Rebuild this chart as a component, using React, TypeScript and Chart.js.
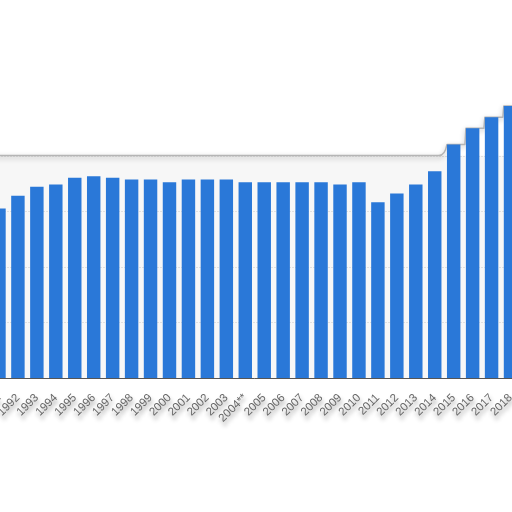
import React, { useEffect, useRef } from "react";
import { Chart, registerables } from "chart.js";

Chart.register(...registerables);

const years = [
  "1991", "1992", "1993", "1994", "1995", "1996", "1997", "1998", "1999", "2000",
  "2001", "2002", "2003", "2004**", "2005", "2006", "2007", "2008", "2009", "2010",
  "2011", "2012", "2013", "2014", "2015", "2016", "2017", "2018",
];
const values = [
  30.5, 32.8, 34.4, 34.8, 36.0, 36.3, 36.0, 35.7, 35.7, 35.2,
  35.7, 35.7, 35.7, 35.2, 35.2, 35.2, 35.2, 35.2, 34.8, 35.2,
  31.6, 33.2, 34.8, 37.2, 42.0, 44.9, 46.9, 48.9,
];
const gridValues = [10, 20, 30, 40];
const bandTop = 40;
const yMax = 50;

const BAR_COLOR = "rgb(42,120,216)";

const decorPlugin = {
  id: "decor",
  beforeDraw(chart: any) {
    const ctx = chart.ctx;
    ctx.save();
    ctx.shadowColor = "rgba(0,0,0,0.45)";
    ctx.shadowBlur = 4;
    ctx.shadowOffsetX = 1;
    ctx.shadowOffsetY = 4;
  },
  beforeDatasetsDraw(chart: any) {
    const ctx = chart.ctx;
    ctx.restore();
    const { left, right, bottom } = chart.chartArea;
    const y = chart.scales.y;
    const yb = y.getPixelForValue(bandTop);
    ctx.save();
    ctx.fillStyle = "#f7f7f7";
    ctx.fillRect(left, yb, right - left, bottom - yb);
    ctx.strokeStyle = "#c8c8c8";
    ctx.lineWidth = 1;
    ctx.setLineDash([1, 2]);
    gridValues.forEach((v) => {
      const py = Math.round(y.getPixelForValue(v)) + 0.5;
      ctx.beginPath();
      ctx.moveTo(left, py);
      ctx.lineTo(right, py);
      ctx.stroke();
    });
    ctx.setLineDash([]);
    const meta = chart.getDatasetMeta(0);
    ctx.beginPath();
    ctx.moveTo(left, yb);
    let curY = yb;
    let above = false;
    meta.data.forEach((bar: any, i: number) => {
      if (values[i] > bandTop) {
        const half = bar.width / 2;
        if (!above) {
          ctx.lineTo(bar.x - half - 8, yb);
          ctx.quadraticCurveTo(bar.x - half - 2, yb, bar.x - half, bar.y);
        } else {
          ctx.lineTo(bar.x - half - 1, curY);
          ctx.lineTo(bar.x - half, bar.y);
        }
        ctx.lineTo(bar.x + half, bar.y);
        curY = bar.y;
        above = true;
      }
    });
    if (!above) ctx.lineTo(right, yb);
    ctx.strokeStyle = "#b5b5b5";
    ctx.lineWidth = 1.5;
    ctx.lineJoin = "round";
    ctx.shadowColor = "rgba(0,0,0,0.3)";
    ctx.shadowBlur = 5;
    ctx.shadowOffsetY = 2;
    ctx.stroke();
    ctx.restore();
  },
  afterDatasetsDraw(chart: any) {
    const ctx = chart.ctx;
    const { left, right, bottom } = chart.chartArea;
    ctx.save();
    ctx.strokeStyle = "#555";
    ctx.lineWidth = 1;
    ctx.beginPath();
    ctx.moveTo(left, Math.round(bottom) + 0.5);
    ctx.lineTo(right, Math.round(bottom) + 0.5);
    ctx.stroke();
    ctx.restore();
  },
};

export default function App() {
  const ref = useRef<HTMLCanvasElement | null>(null);
  useEffect(() => {
    document.body.style.margin = "0";
    const canvas = ref.current!;
    const chart = new Chart(canvas, {
      type: "bar",
      data: {
        labels: years,
        datasets: [
          {
            data: values,
            backgroundColor: BAR_COLOR,
            borderWidth: 0,
            categoryPercentage: 1,
            barPercentage: 0.71,
          },
        ],
      },
      options: {
        animation: false,
        responsive: false,
        devicePixelRatio: 1,
        layout: { padding: { left: 49.5, right: 60, top: 100, bottom: 0 } },
        plugins: { legend: { display: false }, tooltip: { enabled: false } },
        scales: {
          x: {
            grid: { display: false, drawTicks: false },
            border: { display: false },
            ticks: {
              minRotation: 45,
              maxRotation: 45,
              autoSkip: false,
              padding: 13,
              color: "#666",
              font: { family: "'Liberation Sans', Arial, sans-serif", size: 11.5 },
            },
            afterFit: (scale: any) => {
              scale.height = 134;
            },
          },
          y: {
            display: false,
            min: 0,
            max: yMax,
            grid: { display: false },
          },
        },
      },
      plugins: [decorPlugin],
    });
    return () => chart.destroy();
  }, []);
  return (
    <div
      style={{
        position: "fixed",
        left: 0,
        top: 0,
        width: 512,
        height: 512,
        overflow: "hidden",
        background: "#fff",
      }}
    >
      <canvas
        ref={ref}
        width={640}
        height={512}
        style={{ position: "absolute", left: -60, top: 0, width: 640, height: 512 }}
      />
    </div>
  );
}
